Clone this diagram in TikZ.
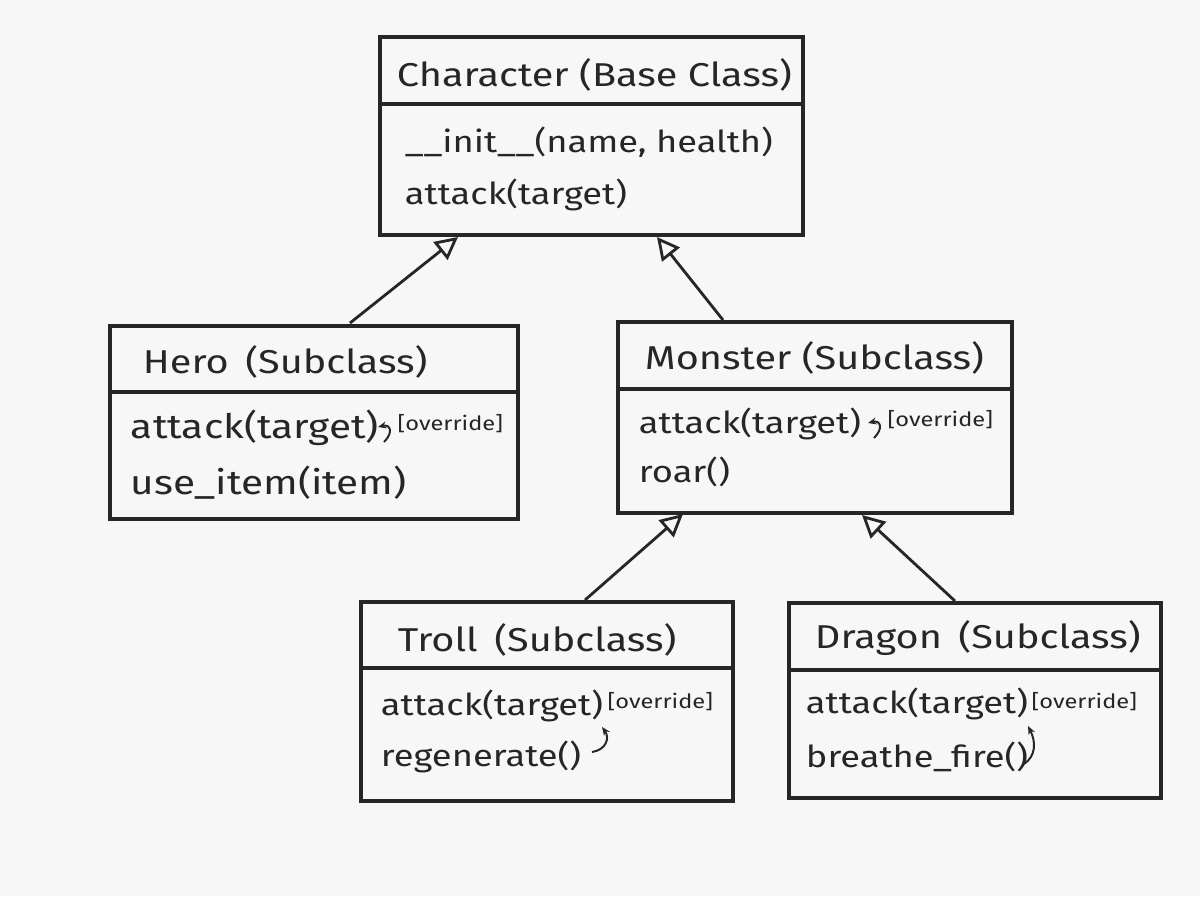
\documentclass[tikz,border=0pt]{standalone}
\usepackage{fontspec}
\setmainfont{Fira Sans}[FakeStretch=1.2]
\usetikzlibrary{arrows.meta}
\begin{document}
\begin{tikzpicture}[x=0.025cm,y=-0.025cm,
  box/.style={draw=black!85,line width=2.2pt,inner sep=0pt},
  sep/.style={draw=black!85,line width=2.2pt},
  ttl/.style={anchor=west,font=\fontsize{23.5}{28}\selectfont,text=black!85},
  mth/.style={anchor=west,font=\fontsize{24}{28}\selectfont,text=black!85},
  mths/.style={anchor=west,font=\fontsize{21.5}{26}\selectfont,text=black!85},
  ovr/.style={anchor=west,font=\fontsize{14}{16}\selectfont,text=black!85,inner sep=1pt},
  inh/.style={draw=black!85,line width=2pt,-{Triangle[open,length=16pt,width=16pt,line width=2pt]}},
  hook/.style={draw=black!85,line width=1.4pt,-{Stealth[length=6pt,width=5pt]}}]
\fill[gray!6] (0,0) rectangle (1200,896);
\useasboundingbox (0,0) rectangle (1200,896);
% boxes
\node[box,minimum width=423*0.025cm,minimum height=198*0.025cm] (char) at (591.5,136) {};
\node[box,minimum width=408*0.025cm,minimum height=193*0.025cm] (hero) at (314,422.5) {};
\node[box,minimum width=394*0.025cm,minimum height=191*0.025cm] (mon) at (815,417.5) {};
\node[box,minimum width=372*0.025cm,minimum height=199*0.025cm] (troll) at (547,701.5) {};
\node[box,minimum width=372*0.025cm,minimum height=195*0.025cm] (drag) at (975,700.5) {};
% separators
\draw[sep] (380,104) -- (803,104);
\draw[sep] (110,392) -- (518,392);
\draw[sep] (618,389) -- (1012,389);
\draw[sep] (361,668) -- (733,668);
\draw[sep] (789,670) -- (1161,670);
% texts
\node[ttl] (tc) at (392,75) {Character (Base Class)};
\node[mths] (c1) at (400,142) {\_\_init\_\_(name, health)};
\node[mths] (c2) at (400,195) {attack(target)};
\node[ttl] (th) at (138,362) {Hero\enspace(Subclass)};
\node[mth] (h1) at (126,428) {attack(target)};
\node[ovr] (ho) at (396,424) {[override]};
\node[mth] (h2) at (126,483) {use\_item(item)};
\node[ttl] (tm) at (640,358) {Monster (Subclass)};
\node[mths] (m1) at (634,424) {attack(target)};
\node[ovr] (mo) at (886,420) {[override]};
\node[mths] (m2) at (634,472) {roar()};
\node[ttl] (tt) at (393,640) {Troll\enspace(Subclass)};
\node[mths] (t1) at (376,706) {attack(target)};
\node[ovr] (to) at (606,702) {[override]};
\node[mths] (t2) at (376,757) {regenerate()};
\node[ttl] (td) at (810,638) {Dragon\enspace(Subclass)};
\node[mths] (d1) at (801,704) {attack(target)};
\node[ovr] (do) at (1030,702) {[override]};
\node[mths] (d2) at (801,757) {breathe\_fire()};
% override hooks
\draw[hook] (384,442) .. controls (394,432) and (390,424) .. (378,427);
\draw[hook] (874,438) .. controls (884,428) and (880,420) .. (868,423);
\draw[hook] (592,752) .. controls (606,750) and (610,738) .. (602,727);
\draw[hook] (1024,764) .. controls (1036,756) and (1036,742) .. (1028,726);
% inheritance
\coordinate (a1) at (350,323); \coordinate (b1) at (458,237);
\coordinate (a2) at (723,320); \coordinate (b2) at (657,237);
\coordinate (a3) at (585,600); \coordinate (b3) at (683,514);
\coordinate (a4) at (955,601); \coordinate (b4) at (862,515);
\draw[inh] (a1) -- (b1);
\draw[inh] (a2) -- (b2);
\draw[inh] (a3) -- (b3);
\draw[inh] (a4) -- (b4);
\end{tikzpicture}
\end{document}
